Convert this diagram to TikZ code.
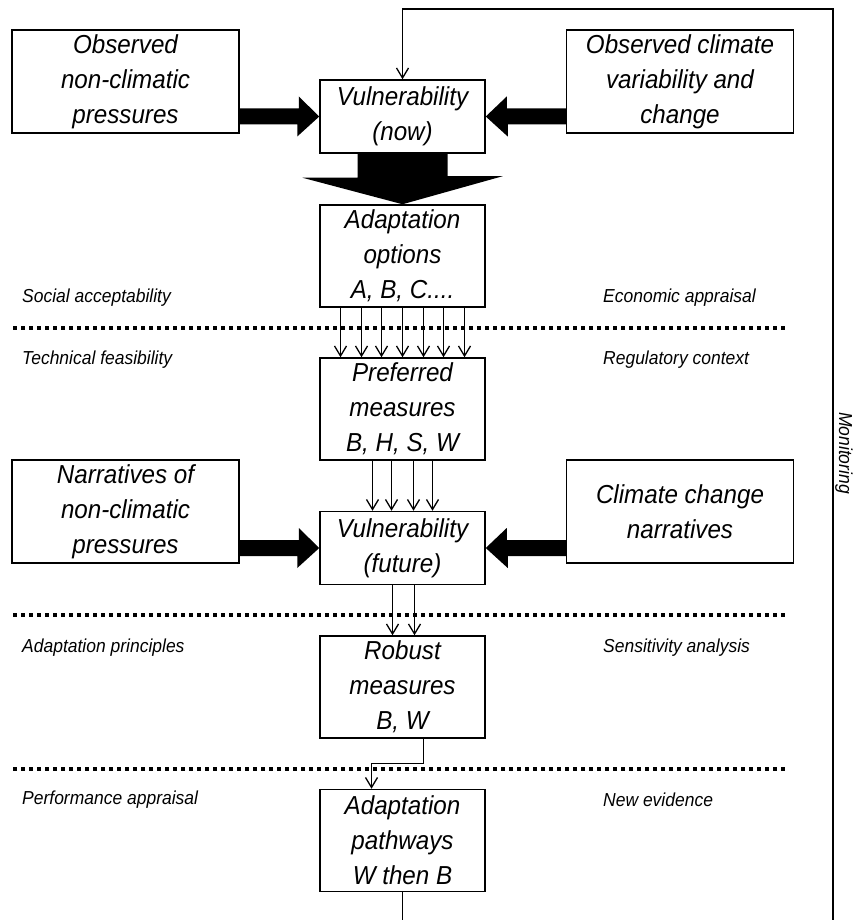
\documentclass[tikz,border=0pt]{standalone}
\usepackage{fontspec}
\setmainfont{Liberation Sans}
\newfontfamily\figfont[FakeStretch=0.93]{Liberation Sans}
\usetikzlibrary{arrows.meta}

\begin{document}
\begin{tikzpicture}[x=1pt,y=-1pt,
  box/.style={draw,line width=1.5pt,inner sep=0pt,align=center,
    font=\figfont\itshape\fontsize{26}{35}\selectfont},
  sidebox/.style={box,minimum width=227pt,minimum height=103pt},
  midbox/.style={box,minimum width=165pt,minimum height=102pt},
  vulbox/.style={box,minimum width=165pt,minimum height=73pt},
  factor/.style={anchor=west,inner sep=0pt,font=\figfont\itshape\fontsize{18.8}{22}\selectfont},
  flow/.style={line width=1.3pt,-{Straight Barb[length=10pt,width=12pt]}},
  divider/.style={line width=3.5pt,dash pattern=on 4pt off 4pt}]
\useasboundingbox (0,0) rectangle (854,920);
\clip (0,0) rectangle (854,920);
% boxes
\node[sidebox] (obsnc) at (125.5,81.5) {Observed\\non-climatic\\pressures};
\node[vulbox] (vulnow) at (402.5,116.5) {Vulnerability\\(now)};
\node[sidebox] (obscl) at (680,81.5) {Observed climate\\variability and\\change};
\node[midbox] (options) at (402.5,256) {Adaptation\\options\\A, B, C....};
\node[midbox] (preferred) at (402.5,409) {Preferred\\measures\\B, H, S, W};
\node[sidebox] (narrnc) at (125.5,511.5) {Narratives of\\non-climatic\\pressures};
\node[vulbox] (vulfut) at (402.5,548) {Vulnerability\\(future)};
\node[sidebox] (ccnarr) at (680,511.5) {Climate change\\narratives};
\node[midbox] (robust) at (402.5,687) {Robust\\measures\\B, W};
\node[midbox] (pathways) at (402.5,840.5) {Adaptation\\pathways\\W then B};
% dotted dividers
\draw[divider] (13,328)--(788,328);
\draw[divider] (13,615)--(788,615);
\draw[divider] (13,769)--(788,769);
% labels
\node[factor] (social) at (22,298) {Social acceptability};
\node[factor] (econ) at (603,298) {Economic appraisal};
\node[factor] (techn) at (22,360) {Technical feasibility};
\node[factor] (regul) at (603,360) {Regulatory context};
\node[factor] (princ) at (22,648) {Adaptation principles};
\node[factor] (sensit) at (603,648) {Sensitivity analysis};
\node[factor] (perform) at (22,800) {Performance appraisal};
\node[factor] (newev) at (603,800) {New evidence};
\node[factor,rotate=-90,anchor=base] (monitor) at (839,453) {Monitoring};
% thick arrows
\fill (obsnc.east |- vulnow.west) ++(0,-8) -- ++(59,0) -- ++(0,-12) -- (vulnow.west) -- ++(-22,20) -- ++(0,-12) -- ++(-59,0) -- cycle;
\fill (obscl.west |- vulnow.east) ++(0,-8) -- ++(-59,0) -- ++(0,-12) -- (vulnow.east) -- ++(22,20) -- ++(0,-12) -- ++(59,0) -- cycle;
\fill (narrnc.east |- vulfut.west) ++(0,-8) -- ++(59,0) -- ++(0,-12) -- (vulfut.west) -- ++(-22,20) -- ++(0,-12) -- ++(-59,0) -- cycle;
\fill (ccnarr.west |- vulfut.east) ++(0,-8) -- ++(-59,0) -- ++(0,-12) -- (vulfut.east) -- ++(22,20) -- ++(0,-12) -- ++(59,0) -- cycle;
\fill (vulnow.south) ++(-45,0) -- ++(0,24) -- ++(-55,0) -- (options.north) -- ++(100,-28) -- ++(-55,0) -- ++(0,-24) -- cycle;
% thin arrows
\draw[flow] ([xshift=-62]options.south) -- ([xshift=-62]preferred.north);
\draw[flow] ([xshift=-41]options.south) -- ([xshift=-41]preferred.north);
\draw[flow] ([xshift=-21]options.south) -- ([xshift=-21]preferred.north);
\draw[flow] (options.south) -- (preferred.north);
\draw[flow] ([xshift=21]options.south) -- ([xshift=21]preferred.north);
\draw[flow] ([xshift=41]options.south) -- ([xshift=41]preferred.north);
\draw[flow] ([xshift=62]options.south) -- ([xshift=62]preferred.north);
\draw[flow] ([xshift=-30]preferred.south) -- ([xshift=-30]vulfut.north);
\draw[flow] ([xshift=-11]preferred.south) -- ([xshift=-11]vulfut.north);
\draw[flow] ([xshift=11]preferred.south) -- ([xshift=11]vulfut.north);
\draw[flow] ([xshift=30]preferred.south) -- ([xshift=30]vulfut.north);
\draw[flow] ([xshift=-10]vulfut.south) -- ([xshift=-10]robust.north);
\draw[flow] ([xshift=12]vulfut.south) -- ([xshift=12]robust.north);
\draw[flow] ([xshift=21]robust.south) -- ++(0,25) -| ([xshift=-31]pathways.north);
% monitoring loop
\coordinate (loopbot) at (833,935);
\coordinate (looptop) at (833,9);
\draw[flow] (pathways.south) -- (pathways.south |- loopbot) -- (loopbot) -- (looptop) -- (looptop -| vulnow.north) -- (vulnow.north);
\end{tikzpicture}
\end{document}
